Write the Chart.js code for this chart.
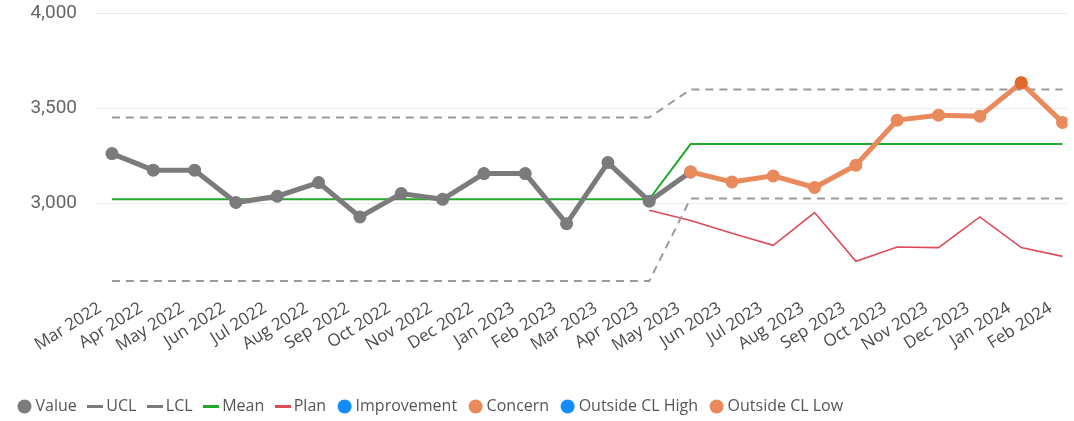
<!DOCTYPE html>
<html lang="en">
<head>
    <meta charset="UTF-8" />
    <title>SPC chart</title>
    <style>
        html, body {
            margin: 0;
            padding: 0;
            background: #ffffff;
        }

        .wrap {
            position: relative;
            width: 1074px;
            height: 421px;
        }
    </style>
    <script src="https://cdn.jsdelivr.net/npm/chart.js"></script>
</head>
<body>
    <div class="wrap">
        <canvas id="spcChart"></canvas>
    </div>

    <script>
    // months on the x axis
    const months = ['Mar 2022', 'Apr 2022', 'May 2022', 'Jun 2022', 'Jul 2022', 'Aug 2022',
      'Sep 2022', 'Oct 2022', 'Nov 2022', 'Dec 2022', 'Jan 2023', 'Feb 2023', 'Mar 2023',
      'Apr 2023', 'May 2023', 'Jun 2023', 'Jul 2023', 'Aug 2023', 'Sep 2023', 'Oct 2023',
      'Nov 2023', 'Dec 2023', 'Jan 2024', 'Feb 2024'];

    // monthly measured values
    const values = [3261, 3174, 3174, 3004, 3037, 3109, 2928, 3051, 3021, 3156, 3156, 2893,
      3214, 3011, 3165, 3112, 3144, 3083, 3200, 3437, 3463, 3458, 3633, 3425];

    // control limits and mean (recalculated from May 2023)
    const ucl = [3451, 3451, 3451, 3451, 3451, 3451, 3451, 3451, 3451, 3451, 3451, 3451,
      3451, 3451, 3598, 3598, 3598, 3598, 3598, 3598, 3598, 3598, 3598, 3598];
    const lcl = [2591, 2591, 2591, 2591, 2591, 2591, 2591, 2591, 2591, 2591, 2591, 2591,
      2591, 2591, 3025, 3025, 3025, 3025, 3025, 3025, 3025, 3025, 3025, 3025];
    const mean = [3021, 3021, 3021, 3021, 3021, 3021, 3021, 3021, 3021, 3021, 3021, 3021,
      3021, 3021, 3311, 3311, 3311, 3311, 3311, 3311, 3311, 3311, 3311, 3311];

    // plan starts in Apr 2023
    const plan = [null, null, null, null, null, null, null, null, null, null, null, null,
      null, 2963, 2910, 2842, 2779, 2951, 2695, 2770, 2767, 2928, 2767, 2721];

    const yTicks = [3000, 3500, 4000];

    // points flagged as concern from May 2023, Jan 2024 also outside the limits
    const concernFrom = 14;
    const outsideIdx = [22];

    const xy = arr => arr.map((v, i) => ({ x: i, y: v }));

    const grey = '#7b7b7b';
    const orange = '#e98a5c';
    const blue = '#118dff';

    // short solid bar used as the legend mark for line series
    function lineMark(color) {
      const c = document.createElement('canvas');
      c.width = 16;
      c.height = 3;
      const g = c.getContext('2d');
      g.fillStyle = color;
      g.fillRect(0, 0, 16, 3);
      return c;
    }

    new Chart(document.getElementById('spcChart'), {
      type: 'line',
      data: {
        datasets: [
          {
            label: 'Value',
            data: xy(values.map((v, i) => i <= concernFrom ? v : null)),
            borderColor: grey, backgroundColor: grey, borderWidth: 5,
            pointRadius: 6.5, pointBorderWidth: 0, order: 2,
            legendMark: 'circle', legendColor: grey
          },
          {
            label: 'UCL',
            data: xy(ucl),
            borderColor: '#9a9a9a', borderWidth: 2, borderDash: [8, 6],
            pointRadius: 0, order: 4,
            legendMark: 'line', legendColor: '#7b7b7b'
          },
          {
            label: 'LCL',
            data: xy(lcl),
            borderColor: '#9a9a9a', borderWidth: 2, borderDash: [8, 6],
            pointRadius: 0, order: 4,
            legendMark: 'line', legendColor: '#7b7b7b'
          },
          {
            label: 'Mean',
            data: xy(mean),
            borderColor: '#22ab2a', borderWidth: 2,
            pointRadius: 0, order: 3,
            legendMark: 'line', legendColor: '#1fa82a'
          },
          {
            label: 'Plan',
            data: xy(plan),
            borderColor: '#de4a5a', borderWidth: 1.6,
            pointRadius: 0, order: 5,
            legendMark: 'line', legendColor: '#de4a5a'
          },
          {
            label: 'Improvement',
            data: [],
            borderColor: blue, backgroundColor: blue, pointRadius: 0, order: 6,
            legendMark: 'circle', legendColor: blue
          },
          {
            label: 'Concern',
            data: xy(values.map((v, i) => i >= concernFrom ? v : null)),
            borderColor: orange, backgroundColor: orange, borderWidth: 5,
            pointRadius: 6.5, pointBorderWidth: 0, order: 1,
            legendMark: 'circle', legendColor: orange
          },
          {
            label: 'Outside CL High',
            data: [],
            borderColor: blue, backgroundColor: blue, pointRadius: 0, order: 6,
            legendMark: 'circle', legendColor: blue
          },
          {
            label: 'Outside CL Low',
            data: xy(values.map((v, i) => outsideIdx.includes(i) ? v : null)),
            borderColor: '#e0682e', backgroundColor: '#e0682e', showLine: false,
            pointRadius: 6.5, pointBorderWidth: 0, order: 0,
            legendMark: 'circle', legendColor: orange
          }
        ]
      },
      options: {
        responsive: true,
        maintainAspectRatio: false,
        animation: false,
        spanGaps: false,
        layout: { padding: { top: 13, left: 6, right: 0, bottom: -3.5 } },
        plugins: {
          tooltip: { enabled: false },
          legend: {
            position: 'bottom',
            align: 'start',
            labels: {
              usePointStyle: true,
              boxWidth: 6,
              boxHeight: 9.9,
              padding: 15.5,
              color: '#555',
              font: { family: '"Open Sans", sans-serif', size: 16 },
              generateLabels: chart => chart.data.datasets.map((ds, i) => ({
                text: ds.label,
                datasetIndex: i,
                fillStyle: ds.legendColor,
                strokeStyle: ds.legendColor,
                pointStyle: ds.legendMark === 'line' ? lineMark(ds.legendColor) : 'circle',
                lineWidth: 0,
                lineDash: [],
                fontColor: '#555',
                hidden: false
              }))
            }
          }
        },
        scales: {
          x: {
            type: 'linear',
            min: -0.41,
            max: 23.12,
            grid: { display: false, drawTicks: false },
            border: { display: false },
            ticks: {
              stepSize: 1,
              includeBounds: false,
              autoSkip: false,
              minRotation: 32,
              maxRotation: 32,
              padding: 11,
              labelOffset: -12,
              color: '#4a4a4a',
              font: { family: '"Open Sans", sans-serif', size: 17 },
              callback: v => months[v] ?? ''
            },
            afterFit: s => { s.paddingRight = 0; s.height = 96; }
          },
          y: {
            min: 2560,
            max: 4000,
            afterFit: s => { s.width = 89; s.paddingTop = 0; s.paddingBottom = 0; },
            afterBuildTicks: s => { s.ticks = yTicks.map(v => ({ value: v })); },
            grid: { color: '#ececec', drawTicks: false },
            border: { display: false },
            ticks: {
              padding: 18,
              color: '#666',
              font: { family: 'Roboto, sans-serif', size: 19 },
              callback: v => v.toLocaleString('en-US')
            }
          }
        }
      }
    });
    </script>
</body>
</html>
